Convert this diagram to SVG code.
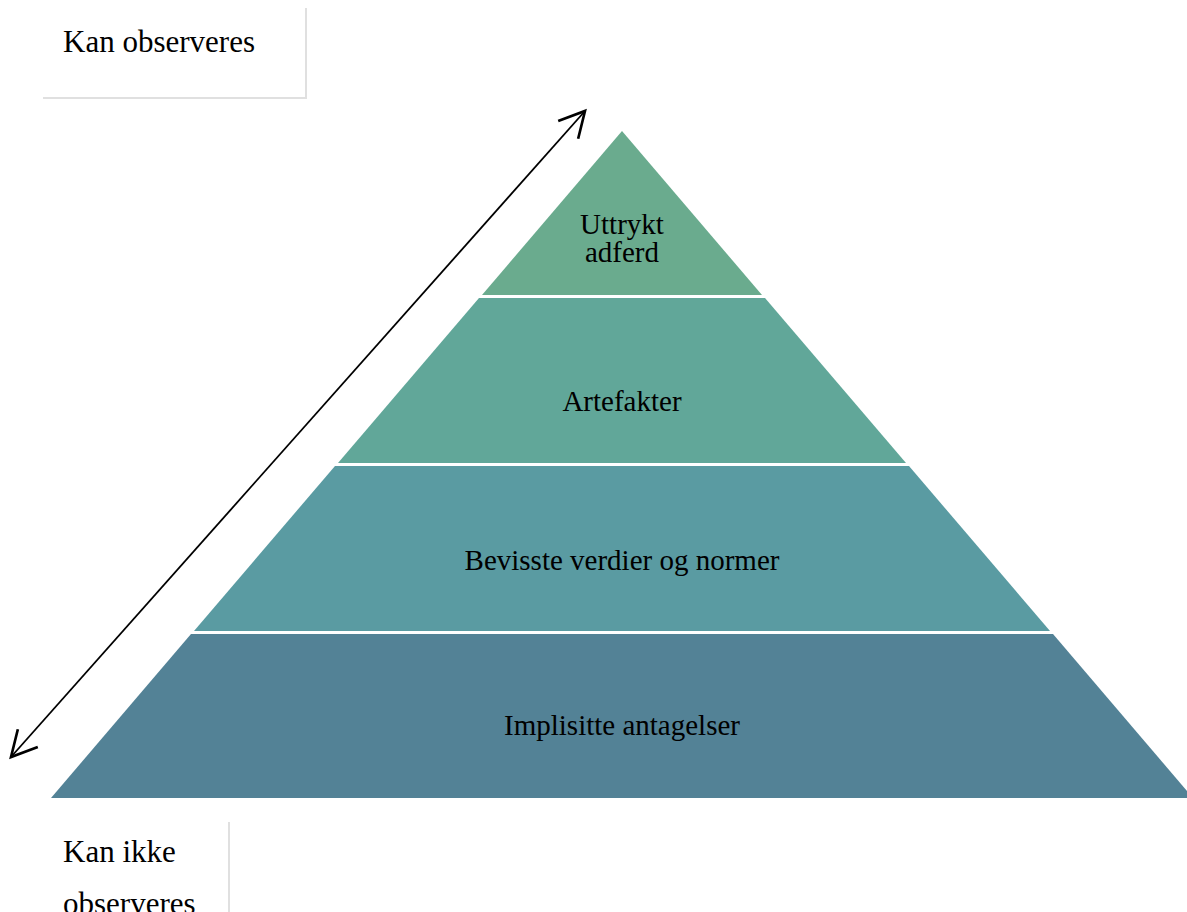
<svg xmlns="http://www.w3.org/2000/svg" width="1187" height="912" viewBox="0 0 1187 912">
<style>
.lbl{font-family:"Liberation Serif","Times New Roman",serif;font-size:29px;fill:#000;text-anchor:middle}
.side{font-family:"Liberation Serif","Times New Roman",serif;font-size:31px;fill:#000}
.edge{stroke:#e0e0e0;stroke-width:2;fill:none}
</style>
<defs>
<marker id="ah" markerUnits="userSpaceOnUse" markerWidth="40" markerHeight="40" refX="0" refY="0" orient="auto-start-reverse" viewBox="-25 -15 30 30" overflow="visible">
<path d="M-19,-10 L0,0 L-19,10" fill="none" stroke="#000" stroke-width="2"/>
</marker>
</defs>
<rect width="1187" height="912" fill="#fff"/>
<g id="box-top">
<path class="edge" d="M43,98 L306,98 L306,8"/>
<text class="side" x="63" y="52">Kan observeres</text>
</g>
<g id="box-bottom">
<path class="edge" d="M229,822 L229,912"/>
<text class="side" x="63" y="862">Kan ikke<tspan x="63" y="914">observeres</tspan></text>
</g>
<g id="layer1">
<polygon points="622,131 762,295 482,295" fill="#6AAB8E"/>
<text class="lbl" x="622" y="234">Uttrykt<tspan x="622" y="262">adferd</tspan></text>
</g>
<g id="layer2">
<polygon points="479,298 765,298 906,463 338,463" fill="#61A799"/>
<text class="lbl" x="622" y="411">Artefakter</text>
</g>
<g id="layer3">
<polygon points="335,466 909,466 1050,631 194,631" fill="#5A9BA2"/>
<text class="lbl" x="622" y="570">Bevisste verdier og normer</text>
</g>
<g id="layer4">
<polygon points="191,634 1053,634 1193,798 51,798" fill="#538296"/>
<text class="lbl" x="622" y="735">Implisitte antagelser</text>
</g>
<g id="connectors">
<line x1="11" y1="757" x2="585" y2="111" stroke="#000" stroke-width="1.8" marker-start="url(#ah)" marker-end="url(#ah)"/>
</g>
</svg>
